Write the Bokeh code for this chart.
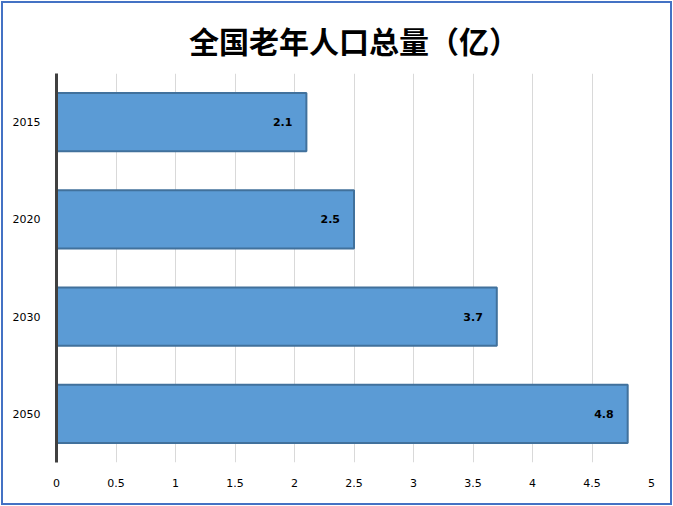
from bokeh.plotting import figure
from bokeh.models import FactorRange, Range1d, ColumnDataSource, FixedTicker, LabelSet
from bokeh.layouts import column
from bokeh.embed import file_html
from bokeh.resources import INLINE
from bokeh.core.properties import value

title_text = "全国老年人口总量（亿）"
years = ["2015", "2020", "2030", "2050"]
values = [2.1, 2.5, 3.7, 4.8]
labels = ["2.1", "2.5", "3.7", "4.8"]
x_ticks = [0, 0.5, 1, 1.5, 2, 2.5, 3, 3.5, 4, 4.5, 5]

src = ColumnDataSource(dict(y=years, v=values, lab=labels))

p = figure(width=667, height=500, output_backend="svg", toolbar_location=None,
           y_range=FactorRange(factors=list(reversed(years)), range_padding=0),
           x_range=Range1d(0, 5),
           min_border_left=53, min_border_right=19, min_border_top=70, min_border_bottom=41)

p.title.text = title_text
p.title.align = "center"
p.title.vertical_align = "top"
p.title.text_font = "Noto Sans CJK SC"
p.title.text_font_size = "30px"
p.title.text_font_style = "bold"
p.title.text_color = "#000000"
p.title.standoff = 19

p.hbar(y="y", right="v", left=0, height=0.6, source=src,
       fill_color="#5B9BD5", line_color="#41719C", line_width=2)

lbl = LabelSet(x="v", y="y", text="lab", source=src, x_offset=-14,
               text_align="right", text_baseline="middle",
               text_font=value("DejaVu Sans"), text_font_size="11px",
               text_font_style="bold", text_color="#000000")
p.add_layout(lbl)

p.xaxis.ticker = FixedTicker(ticks=x_ticks)
p.xaxis.major_label_overrides = {0: "0", 1: "1", 2: "2", 3: "3", 4: "4", 5: "5"}
p.xaxis.axis_line_color = None
p.xaxis.major_tick_line_color = None
p.xaxis.minor_tick_line_color = None
p.xaxis.major_label_standoff = 10
p.xaxis.major_label_text_font = "DejaVu Sans"
p.xaxis.major_label_text_font_size = "11px"
p.xaxis.major_label_text_color = "#000000"

p.yaxis.axis_line_color = "#404040"
p.yaxis.axis_line_width = 3
p.yaxis.major_tick_line_color = None
p.yaxis.minor_tick_line_color = None
p.yaxis.major_label_standoff = 10
p.yaxis.major_label_text_font = "DejaVu Sans"
p.yaxis.major_label_text_font_size = "11px"
p.yaxis.major_label_text_color = "#000000"

p.xgrid.grid_line_color = "#D9D9D9"
p.xgrid.grid_line_width = 1
p.ygrid.grid_line_color = None
p.outline_line_color = None
p.background_fill_color = "white"
p.border_fill_color = "white"

layout = column(p, styles={"border": "2px solid #4472C4", "margin": "1px",
                           "padding": "0px", "box-sizing": "content-box"})

open("out.html", "w").write(file_html(layout, INLINE))
